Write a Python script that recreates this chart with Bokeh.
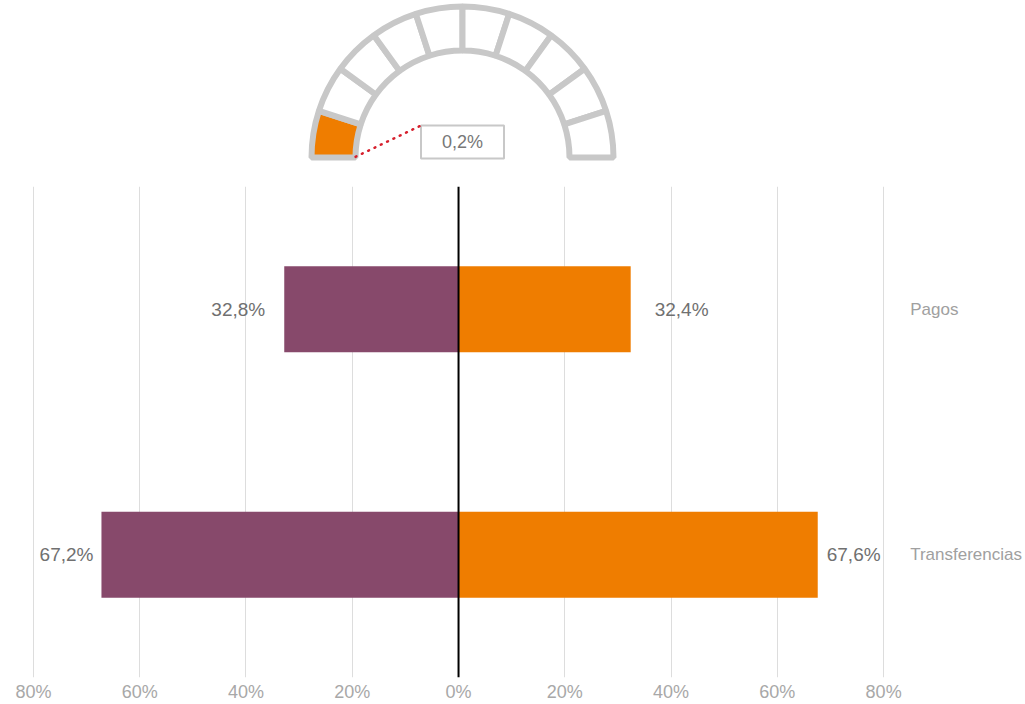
import math
from bokeh.plotting import figure
from bokeh.models import Range1d, FactorRange, FixedTicker, CustomJSTickFormatter, Span
from bokeh.layouts import column
from bokeh.embed import file_html
from bokeh.resources import INLINE
from bokeh.core.properties import value

# ---- data ----
categories = ["Pagos", "Transferencias"]
left_values = [32.8, 67.2]
right_values = [32.4, 67.6]
gauge_value = 0.2
gauge_segments = 10
tick_values = [-80, -60, -40, -20, 0, 20, 40, 60, 80]

# ---- style ----
PURPLE = "#87496b"
ORANGE = "#ef7d00"
GRAY = "#c8c8c8"
FONT = "Liberation Sans"
left_gaps = [19, 8]
right_gaps = [24, 9]


def fmt(v):
    return f"{v:.1f}".replace(".", ",") + "%"


W = 1025
GH = 186
BH = 704 - GH

# ---- gauge ----
g = figure(width=W, height=GH, x_range=Range1d(0, W), y_range=Range1d(0, GH),
           output_backend="svg", toolbar_location=None,
           x_axis_location=None, y_axis_location=None, min_border=0)
g.grid.visible = False
g.outline_line_color = None
g.border_fill_color = "white"

cx, cy = 462, 29
r_in, r_out = 107, 151
seg = 180 / gauge_segments
starts, ends, fills = [], [], []
for k in range(gauge_segments):
    a1 = 180 - seg * (k + 1)
    a2 = 180 - seg * k
    starts.append(math.radians(a1))
    ends.append(math.radians(a2))
    fills.append(ORANGE if gauge_value > k * 100 / gauge_segments else "white")
g.annular_wedge(x=cx, y=cy, inner_radius=r_in, outer_radius=r_out,
                start_angle=starts, end_angle=ends, fill_color=fills,
                line_color=GRAY, line_width=6)

bw, bh = 83, 33
box_bottom = cy - 1
ang = math.radians(180 - gauge_value / 100 * 180)
px0 = cx + r_in * math.cos(ang)
py0 = cy + r_in * math.sin(ang)
g.rect(x=cx, y=box_bottom + bh / 2, width=bw, height=bh, fill_color="white",
       line_color=GRAY, line_width=2)
g.line(x=[px0, cx - bw / 2], y=[py0, box_bottom + bh], line_color="#d61f2c",
       line_width=2.5, line_dash="1 6", line_cap="round")
g.text(x=[cx], y=[box_bottom + bh / 2], text=[fmt(gauge_value)], text_align="center",
       text_baseline="middle", text_font=value(FONT), text_font_size="18px",
       text_color="#777777")

# ---- bars ----
p = figure(width=W, height=BH, x_range=Range1d(-86.2, 106.7),
           y_range=FactorRange(factors=categories[::-1], range_padding=0),
           output_backend="svg", toolbar_location=None,
           y_axis_location=None, min_border=0)
p.outline_line_color = None
p.border_fill_color = "white"
p.ygrid.visible = False
p.xgrid.ticker = FixedTicker(ticks=[t for t in tick_values if t != 0])
p.xgrid.grid_line_color = "#dddddd"
p.xaxis.ticker = FixedTicker(ticks=tick_values)
p.xaxis.formatter = CustomJSTickFormatter(code="return Math.abs(tick) + '%';")
p.xaxis.axis_line_color = None
p.xaxis.major_tick_line_color = None
p.xaxis.minor_tick_line_color = None
p.xaxis.major_tick_out = 0
p.xaxis.major_tick_in = 0
p.xaxis.minor_tick_out = 0
p.xaxis.major_label_text_color = "#a8a8a8"
p.xaxis.major_label_text_font = FONT
p.xaxis.major_label_text_font_size = "18px"
p.xaxis.major_label_standoff = 4

p.hbar(y=categories, left=[-v for v in left_values], right=0, height=0.35,
       fill_color=PURPLE, line_color=None)
p.hbar(y=categories, left=0, right=right_values, height=0.35,
       fill_color=ORANGE, line_color=None)
p.add_layout(Span(location=0, dimension="height", line_color="black", line_width=2))

p.text(x=[-v for v in left_values], y=categories, text=[fmt(v) for v in left_values],
       x_offset=[-gp for gp in left_gaps], text_align="right", text_baseline="middle",
       text_font=value(FONT), text_font_size="19px", text_color="#707070")
p.text(x=right_values, y=categories, text=[fmt(v) for v in right_values],
       x_offset=right_gaps, text_align="left", text_baseline="middle",
       text_font=value(FONT), text_font_size="19px", text_color="#707070")
p.text(x=[85] * len(categories), y=categories, text=categories,
       text_align="left", text_baseline="middle",
       text_font=value(FONT), text_font_size="17px", text_color="#a0a0a0")

layout = column(g, p, spacing=0)
open("out.html", "w").write(file_html(layout, INLINE))
